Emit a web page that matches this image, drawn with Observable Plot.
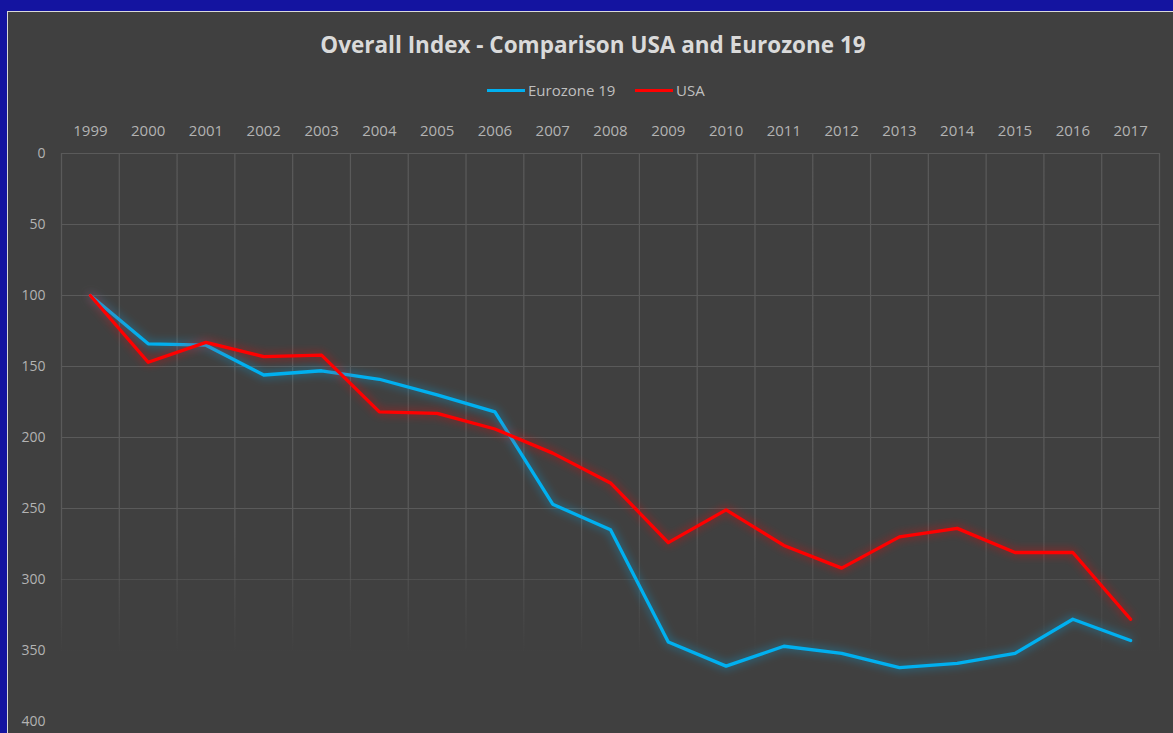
<!DOCTYPE html>
<html><head><meta charset="utf-8">
<script src="https://cdn.jsdelivr.net/npm/d3@7"></script>
<script src="https://cdn.jsdelivr.net/npm/@observablehq/plot@0.6"></script>
<style>
html,body{margin:0;padding:0;background:#1414a0;overflow:hidden;width:1173px;height:733px;}
#frame{position:absolute;left:7px;top:11px;width:1180px;height:780px;background:#404040;border:1px solid #d9d9d9;box-sizing:border-box;}
#title{position:absolute;left:0;top:29px;width:1186px;text-align:center;font-family:"Open Sans";font-weight:bold;font-size:22.5px;color:#dadada;line-height:32px;white-space:nowrap;}
.leg{position:absolute;top:80px;height:20px;display:flex;align-items:center;font-family:"Open Sans";font-size:15px;color:#bfbfbf;white-space:nowrap;}
.sw{display:inline-block;width:38px;height:3px;margin-right:3px;}
#chart{position:absolute;left:0;top:110px;}
</style></head>
<body>
<div id="frame"></div>
<div id="title">Overall Index - Comparison USA and Eurozone 19</div>
<div class="leg" style="left:487px"><span class="sw" style="background:#00b0f0"></span>Eurozone 19</div>
<div class="leg" style="left:635px"><span class="sw" style="background:#ff0000"></span>USA</div>
<div id="chart"></div>
<script>
const years = [1999,2000,2001,2002,2003,2004,2005,2006,2007,2008,2009,2010,2011,2012,2013,2014,2015,2016,2017];
const eurozone = [100,134,135,156,153,159,170,182,247,265,344,361,347,352,362,359,352,328,343];
const usa = [100,147,133,143,142,182,183,194,211,232,274,251,276,292,270,264,281,281,328];
const yTicks = [0,50,100,150,200,250,300,350,400];

const euroData = years.map((y,i)=>({year:y, value:eurozone[i]}));
const usaData = years.map((y,i)=>({year:y, value:usa[i]}));
const gridX = years.map(y=>y-0.5).concat([years[years.length-1]+0.5]);

const plot = Plot.plot({
  width:1173, height:651,
  marginTop:43, marginLeft:61, marginRight:14, marginBottom:40,
  style:{background:"transparent", fontFamily:"Open Sans", fontSize:"15px", color:"#b3b3b3", overflow:"visible"},
  x:{domain:[years[0]-0.5, years[years.length-1]+0.5]},
  y:{domain:[0,400], reverse:true},
  marks:[
    Plot.ruleY(yTicks, {stroke:"url(#gridfade)", strokeWidth:1.2}),
    Plot.ruleX(gridX, {stroke:"url(#gridfade)", strokeWidth:1.2}),
    Plot.axisX({anchor:"top", ticks:years, tickSize:0, tickPadding:18, tickFormat:d=>String(d), label:null, fill:"#b3b3b3"}),
    Plot.axisY({anchor:"left", ticks:yTicks, tickSize:0, tickPadding:16, label:null, fill:"#b3b3b3", fontSize:14}),
    Plot.line(euroData, {x:"year", y:"value", stroke:"#00b0f0", strokeWidth:3.3}),
    Plot.line(usaData, {x:"year", y:"value", stroke:"#ff0000", strokeWidth:3.3})
  ]
});
document.getElementById("chart").appendChild(plot);

const svg = d3.select(plot);
const defs = svg.insert("defs", ":first-child");
const ys = plot.scale("y");
const g = defs.append("linearGradient").attr("id","gridfade").attr("gradientUnits","userSpaceOnUse")
  .attr("x1",0).attr("x2",0).attr("y1",ys.apply(0)).attr("y2",ys.apply(400));
[[0,1],[0.66,1],[0.88,0],[1,0]].forEach(([o,a])=>g.append("stop").attr("offset",o).attr("stop-color","#5a5a5a").attr("stop-opacity",a));
const f = defs.append("filter").attr("id","glow").attr("x","-5%").attr("y","-10%").attr("width","110%").attr("height","120%");
f.append("feGaussianBlur").attr("in","SourceGraphic").attr("stdDeviation",5).attr("result","blur");
const ct = f.append("feComponentTransfer").attr("in","blur").attr("result","soft");
ct.append("feFuncA").attr("type","linear").attr("slope",0.7);
const m = f.append("feMerge");
m.append("feMergeNode").attr("in","soft");
m.append("feMergeNode").attr("in","SourceGraphic");
svg.selectAll('g[aria-label="line"]').attr("filter","url(#glow)");
</script>
</body></html>
